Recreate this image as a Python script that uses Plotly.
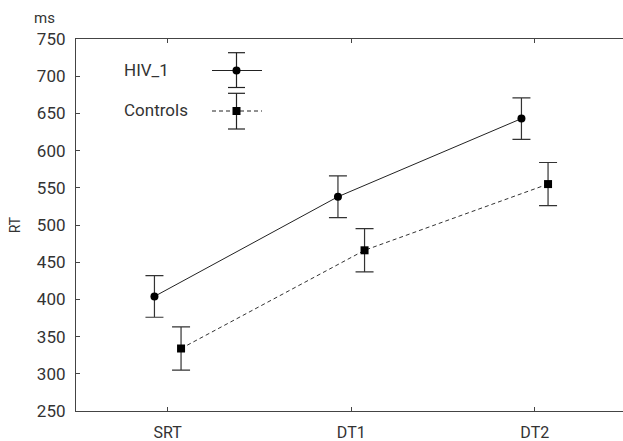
import plotly.graph_objects as go

# ---- data ----
conditions = ["SRT", "DT1", "DT2"]
hiv_rt = [404, 538, 643]
hiv_err = [28, 28, 28]
ctrl_rt = [334, 466, 555]
ctrl_err = [29, 29, 29]
y_ticks = [250, 300, 350, 400, 450, 500, 550, 600, 650, 700, 750]
series_names = ["HIV_1", "Controls"]

# figure is a little wider than the 623px window so that the plot frame runs
# off the right edge, as in the (cropped) reference
W, H = 640, 441
L, R, T, B = 76, 0, 39, 30
PW, PH = W - L - R, H - T - B
CAT_PX = 183.5
X_RANGE = [-0.5, -0.5 + PW / CAT_PX]
TXT = "#333333"
AX = "#444444"
FONT = "Roboto"


def px(x):
    return (x - L) / PW


def py(y):
    return (H - B - y) / PH


fig = go.Figure()
fig.add_trace(go.Scatter(
    x=conditions, y=hiv_rt, name=series_names[0], mode="lines+markers",
    line=dict(color="#222222", width=1),
    marker=dict(symbol="circle", size=8, color="black"),
    error_y=dict(type="data", array=hiv_err, color="#333333", thickness=1.2, width=9),
    offsetgroup="a", showlegend=False,
))
fig.add_trace(go.Scatter(
    x=conditions, y=ctrl_rt, name=series_names[1], mode="lines+markers",
    line=dict(color="#333333", width=1, dash="4px,3px"),
    marker=dict(symbol="square", size=8, color="black"),
    error_y=dict(type="data", array=ctrl_err, color="#333333", thickness=1.2, width=9),
    offsetgroup="b", showlegend=False,
))

# ---- hand-drawn legend (text left, symbol right) ----
shapes = []
annotations = []
rows = [(70.5, 52.7, 87.5, "solid", "circle"), (111, 93.3, 129, "4px,3px", "square")]
lx0, lx1, lxc, cap, r = 212, 262, 236.5, 8.5, 4
for name, (yc, yt, yb, dash, sym) in zip(series_names, rows):
    shapes.append(dict(type="line", xref="paper", yref="paper", x0=px(lx0), x1=px(lx1),
                       y0=py(yc), y1=py(yc), line=dict(color="#222222", width=1, dash=dash)))
    shapes.append(dict(type="line", xref="paper", yref="paper", x0=px(lxc), x1=px(lxc),
                       y0=py(yt), y1=py(yb), line=dict(color="#222222", width=1.2)))
    for ye in (yt, yb):
        shapes.append(dict(type="line", xref="paper", yref="paper", x0=px(lxc - cap), x1=px(lxc + cap),
                           y0=py(ye), y1=py(ye), line=dict(color="#222222", width=1.2)))
    shapes.append(dict(type="circle" if sym == "circle" else "rect", xref="paper", yref="paper",
                       x0=px(lxc - r), x1=px(lxc + r), y0=py(yc - r), y1=py(yc + r),
                       fillcolor="black", line=dict(color="black", width=0)))
    annotations.append(dict(text=name, xref="paper", yref="paper", x=px(122), y=py(yc - 1),
                            xanchor="left", yanchor="middle", showarrow=False,
                            font=dict(family=FONT, size=17, color=TXT)))

annotations.append(dict(text="ms", xref="paper", yref="paper", x=px(44), y=py(18),
                        xanchor="center", yanchor="middle", showarrow=False,
                        font=dict(family=FONT, size=15, color=TXT)))

fig.update_layout(
    width=W, height=H,
    margin=dict(l=L, r=R, t=T, b=B, pad=0, autoexpand=False),
    plot_bgcolor="white", paper_bgcolor="white",
    scattermode="group", scattergap=0.71,
    font=dict(family=FONT, size=17, color=TXT),
    shapes=shapes, annotations=annotations,
    xaxis=dict(
        range=X_RANGE, showline=True, linecolor=AX, linewidth=1.2,
        mirror="ticks", ticks="inside", ticklen=4, tickcolor=AX, automargin=False,
        showgrid=False, zeroline=False, ticklabelstandoff=7,
        tickfont=dict(family=FONT, size=16, color=TXT),
    ),
    yaxis=dict(
        range=[250, 750], tickvals=y_ticks, showline=True, linecolor=AX, linewidth=1.2,
        mirror=False, automargin=False,
        ticks="inside", ticklen=4, tickcolor=AX, showgrid=False, zeroline=False,
        ticklabelstandoff=6,
        tickfont=dict(family=FONT, size=17, color=TXT),
        title=dict(text="RT", font=dict(family=FONT, size=14, color=TXT), standoff=12),
    ),
)

fig.write_html(
    "out.html",
    config={"displayModeBar": False},
    post_script="document.body.style.margin='0';document.body.style.overflow='hidden';",
)
